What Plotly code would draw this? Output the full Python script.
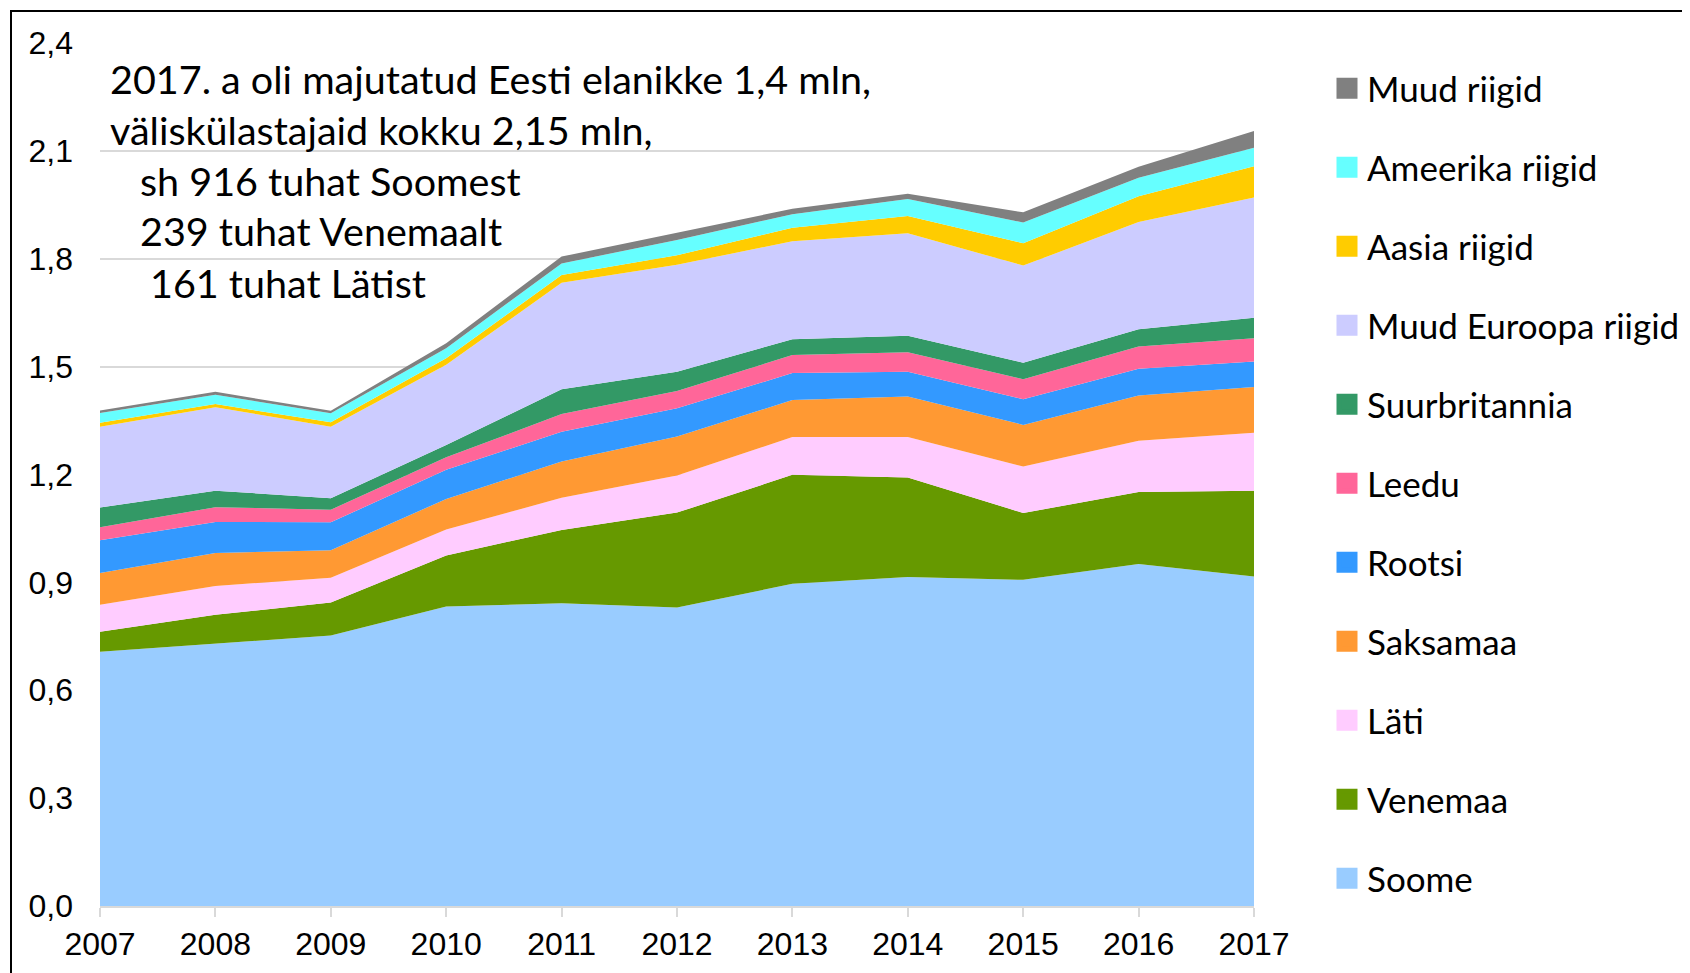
import plotly.graph_objects as go

years = [2007, 2008, 2009, 2010, 2011, 2012, 2013, 2014, 2015, 2016, 2017]

# millions of accommodated foreign visitors, by country (stacked bottom -> top)
soome = [0.707, 0.729, 0.752, 0.833, 0.842, 0.830, 0.896, 0.915, 0.907, 0.951, 0.916]
venemaa = [0.056, 0.081, 0.092, 0.142, 0.204, 0.264, 0.303, 0.277, 0.186, 0.200, 0.239]
lati = [0.075, 0.080, 0.069, 0.072, 0.089, 0.103, 0.105, 0.112, 0.129, 0.143, 0.161]
saksamaa = [0.088, 0.092, 0.076, 0.085, 0.101, 0.109, 0.103, 0.113, 0.116, 0.126, 0.127]
rootsi = [0.091, 0.086, 0.078, 0.081, 0.083, 0.078, 0.075, 0.069, 0.071, 0.074, 0.071]
leedu = [0.036, 0.041, 0.035, 0.035, 0.049, 0.048, 0.050, 0.054, 0.056, 0.062, 0.065]
suurbritannia = [0.055, 0.046, 0.032, 0.034, 0.069, 0.054, 0.044, 0.046, 0.046, 0.048, 0.057]
muud_euroopa = [0.225, 0.232, 0.199, 0.223, 0.296, 0.297, 0.273, 0.285, 0.270, 0.298, 0.334]
aasia = [0.011, 0.009, 0.012, 0.018, 0.022, 0.027, 0.037, 0.048, 0.062, 0.072, 0.087]
ameerika = [0.027, 0.026, 0.025, 0.028, 0.032, 0.042, 0.038, 0.047, 0.058, 0.051, 0.052]
muud_riigid = [0.007, 0.008, 0.007, 0.014, 0.019, 0.020, 0.015, 0.015, 0.028, 0.031, 0.046]

series_names = ["Soome", "Venemaa", "Läti", "Saksamaa", "Rootsi", "Leedu",
                "Suurbritannia", "Muud Euroopa riigid", "Aasia riigid",
                "Ameerika riigid", "Muud riigid"]
series_values = [soome, venemaa, lati, saksamaa, rootsi, leedu,
                 suurbritannia, muud_euroopa, aasia, ameerika, muud_riigid]
series_colors = ["#99ccff", "#669900", "#ffccff", "#ff9933", "#3399ff", "#ff6699",
                 "#339966", "#ccccff", "#ffcc00", "#66ffff", "#808080"]

y_tickvals = [0.0, 0.3, 0.6, 0.9, 1.2, 1.5, 1.8, 2.1, 2.4]
y_ticktext = ["0,0", "0,3", "0,6", "0,9", "1,2", "1,5", "1,8", "2,1", "2,4"]

note_lines = [
    "2017. a oli majutatud Eesti elanikke 1,4 mln,",
    "väliskülastajaid kokku 2,15 mln,",
    "sh 916 tuhat Soomest",
    "239 tuhat Venemaalt",
    "161 tuhat Lätist",
]

W, H = 1690, 973
OFF = 8  # page body margin offset of the figure in the screenshot
L, R, T, B = 92, 444, 35, 75
PW, PH = W - L - R, H - T - B


def px(xs):
    return (xs - OFF - L) / PW


def py(ys):
    return (H - B - (ys - OFF)) / PH


fig = go.Figure()
# stacked areas
for name, vals, col in zip(series_names, series_values, series_colors):
    fig.add_trace(go.Scatter(
        x=years, y=vals, name=name, stackgroup="one", mode="lines",
        line=dict(width=0, color=col), fillcolor=col,
        showlegend=False,
    ))
# legend entries (square swatches), top entry = top layer
for name, col in reversed(list(zip(series_names, series_colors))):
    fig.add_trace(go.Scatter(
        x=[None], y=[None], name=name, mode="markers",
        marker=dict(symbol="square", size=16, color=col, line=dict(width=5, color=col)),
        legendgroup=name, showlegend=True,
    ))

# annotation text block
note_x = [108, 108, 138, 138, 148]
note_y = [79, 129, 180, 231, 282]
for txt, xx, yy in zip(note_lines, note_x, note_y):
    fig.add_annotation(
        x=px(xx), y=py(yy), xref="paper", yref="paper", text=txt,
        showarrow=False, xanchor="left", yanchor="middle",
        font=dict(family="Lato", size=39.5, color="#000000"),
    )

# outer frame
fig.add_shape(type="rect", xref="paper", yref="paper",
              x0=px(11), x1=px(1720), y0=py(1000), y1=py(11),
              line=dict(color="#000000", width=2), fillcolor="rgba(0,0,0,0)", layer="above")

fig.update_layout(
    width=W, height=H,
    margin=dict(l=L, r=R, t=T, b=B, autoexpand=False),
    paper_bgcolor="white", plot_bgcolor="white",
    showlegend=True,
    legend=dict(
        x=px(1327), y=py(59), xanchor="left", yanchor="top",
        traceorder="grouped", tracegroupgap=30.5,
        font=dict(family="Lato", size=35, color="#000000"),
        bgcolor="rgba(0,0,0,0)", borderwidth=0,
    ),
    xaxis=dict(
        range=[2007, 2017], tickvals=years, ticktext=[str(y) for y in years],
        showgrid=False, zeroline=False, automargin=False,
        showline=True, linecolor="#d9d9d9", linewidth=2,
        ticks="outside", ticklen=9, tickwidth=2, tickcolor="#d9d9d9",
        tickfont=dict(family="Liberation Sans", size=32, color="#000000"),
    ),
    yaxis=dict(
        range=[0, 2.4], tickvals=y_tickvals, ticktext=y_ticktext,
        showgrid=True, gridcolor="#d9d9d9", gridwidth=2, zeroline=False,
        showline=False, ticks="", ticklabelstandoff=26, automargin=False,
        tickfont=dict(family="Liberation Sans", size=32, color="#000000"),
    ),
    hovermode=False,
)

fig.write_html("out.html")
